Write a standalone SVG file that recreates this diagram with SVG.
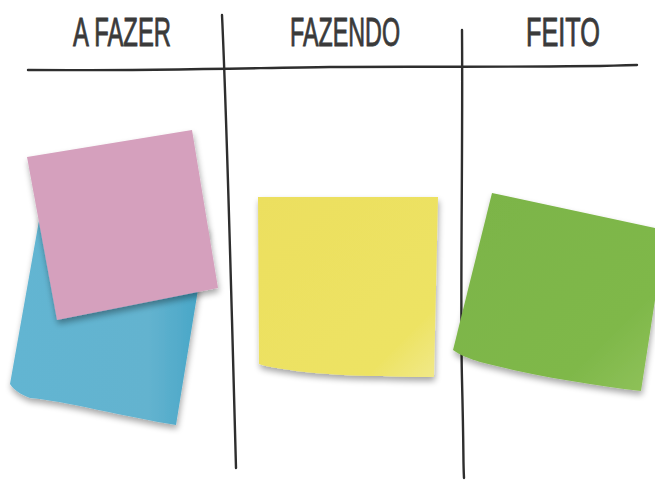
<svg xmlns="http://www.w3.org/2000/svg" width="655" height="481" viewBox="0 0 655 481">
<style>
.hdr{font-family:"Liberation Sans","DejaVu Sans",sans-serif;font-size:40px;fill:#3a3a3a;stroke:#3a3a3a;stroke-width:0.9;text-anchor:start}
.ln{fill:none;stroke:#2e2e2e;stroke-width:2.4;stroke-linecap:round}
</style>
<defs>
<filter id="sh" x="-20%" y="-20%" width="140%" height="140%">
<feGaussianBlur in="SourceAlpha" stdDeviation="3"/>
<feOffset dx="1" dy="4" result="b"/>
<feComponentTransfer><feFuncA type="linear" slope="0.35"/></feComponentTransfer>
<feMerge><feMergeNode/><feMergeNode in="SourceGraphic"/></feMerge>
</filter>
<linearGradient id="gBlue" x1="0" y1="0" x2="1" y2="0">
<stop offset="0" stop-color="#62b5d2"/><stop offset="0.7" stop-color="#63b3cf"/><stop offset="1" stop-color="#43a4c6"/>
</linearGradient>
<linearGradient id="gYel" x1="0" y1="0" x2="1" y2="1">
<stop offset="0" stop-color="#ecdf5f"/><stop offset="0.8" stop-color="#ede364"/><stop offset="1" stop-color="#f1e98a"/>
</linearGradient>
<linearGradient id="gGrn" x1="0" y1="0" x2="1" y2="1">
<stop offset="0" stop-color="#7cb447"/><stop offset="0.75" stop-color="#7fb84a"/><stop offset="1" stop-color="#90c25a"/>
</linearGradient>
</defs>
<rect width="655" height="481" fill="#ffffff"/>
<g id="connectors">
<path class="ln" d="M28,70 C150,71 250,68 330,67 S 550,68 637,65"/>
<path class="ln" d="M222,15 C226,100 230,250 232,320 S 235,430 236,468"/>
<path class="ln" d="M462,30 C463,150 460,300 462,380 S 463,460 464,478"/>
</g>
<g id="col-afazer"><text class="hdr" x="73" y="46" textLength="98" lengthAdjust="spacingAndGlyphs">A FAZER</text></g>
<g id="col-fazendo"><text class="hdr" x="290" y="46" textLength="110" lengthAdjust="spacingAndGlyphs">FAZENDO</text></g>
<g id="col-feito"><text class="hdr" x="526" y="46" textLength="74" lengthAdjust="spacingAndGlyphs">FEITO</text></g>
<g id="note-blue" filter="url(#sh)">
<path d="M40,215 L208,228 L176,425 C130,418 60,400 30,398 C20,394 14,390 10,384 Z" fill="url(#gBlue)"/>
</g>
<g id="note-pink" filter="url(#sh)">
<path d="M27,157 L192,130 L218,288 L57,320 Z" fill="#d5a0bd"/>
</g>
<g id="note-yellow" filter="url(#sh)">
<path d="M258,197 L438,197 L434,377 C380,377 320,375 290,370 C275,368 264,366 259,364 Z" fill="url(#gYel)"/>
</g>
<g id="note-green" filter="url(#sh)">
<path d="M492,193 L655,228 L655,300 L641,391 C590,385 530,375 480,362 C468,358 460,355 453,350 Z" fill="url(#gGrn)"/>
</g>
</svg>
